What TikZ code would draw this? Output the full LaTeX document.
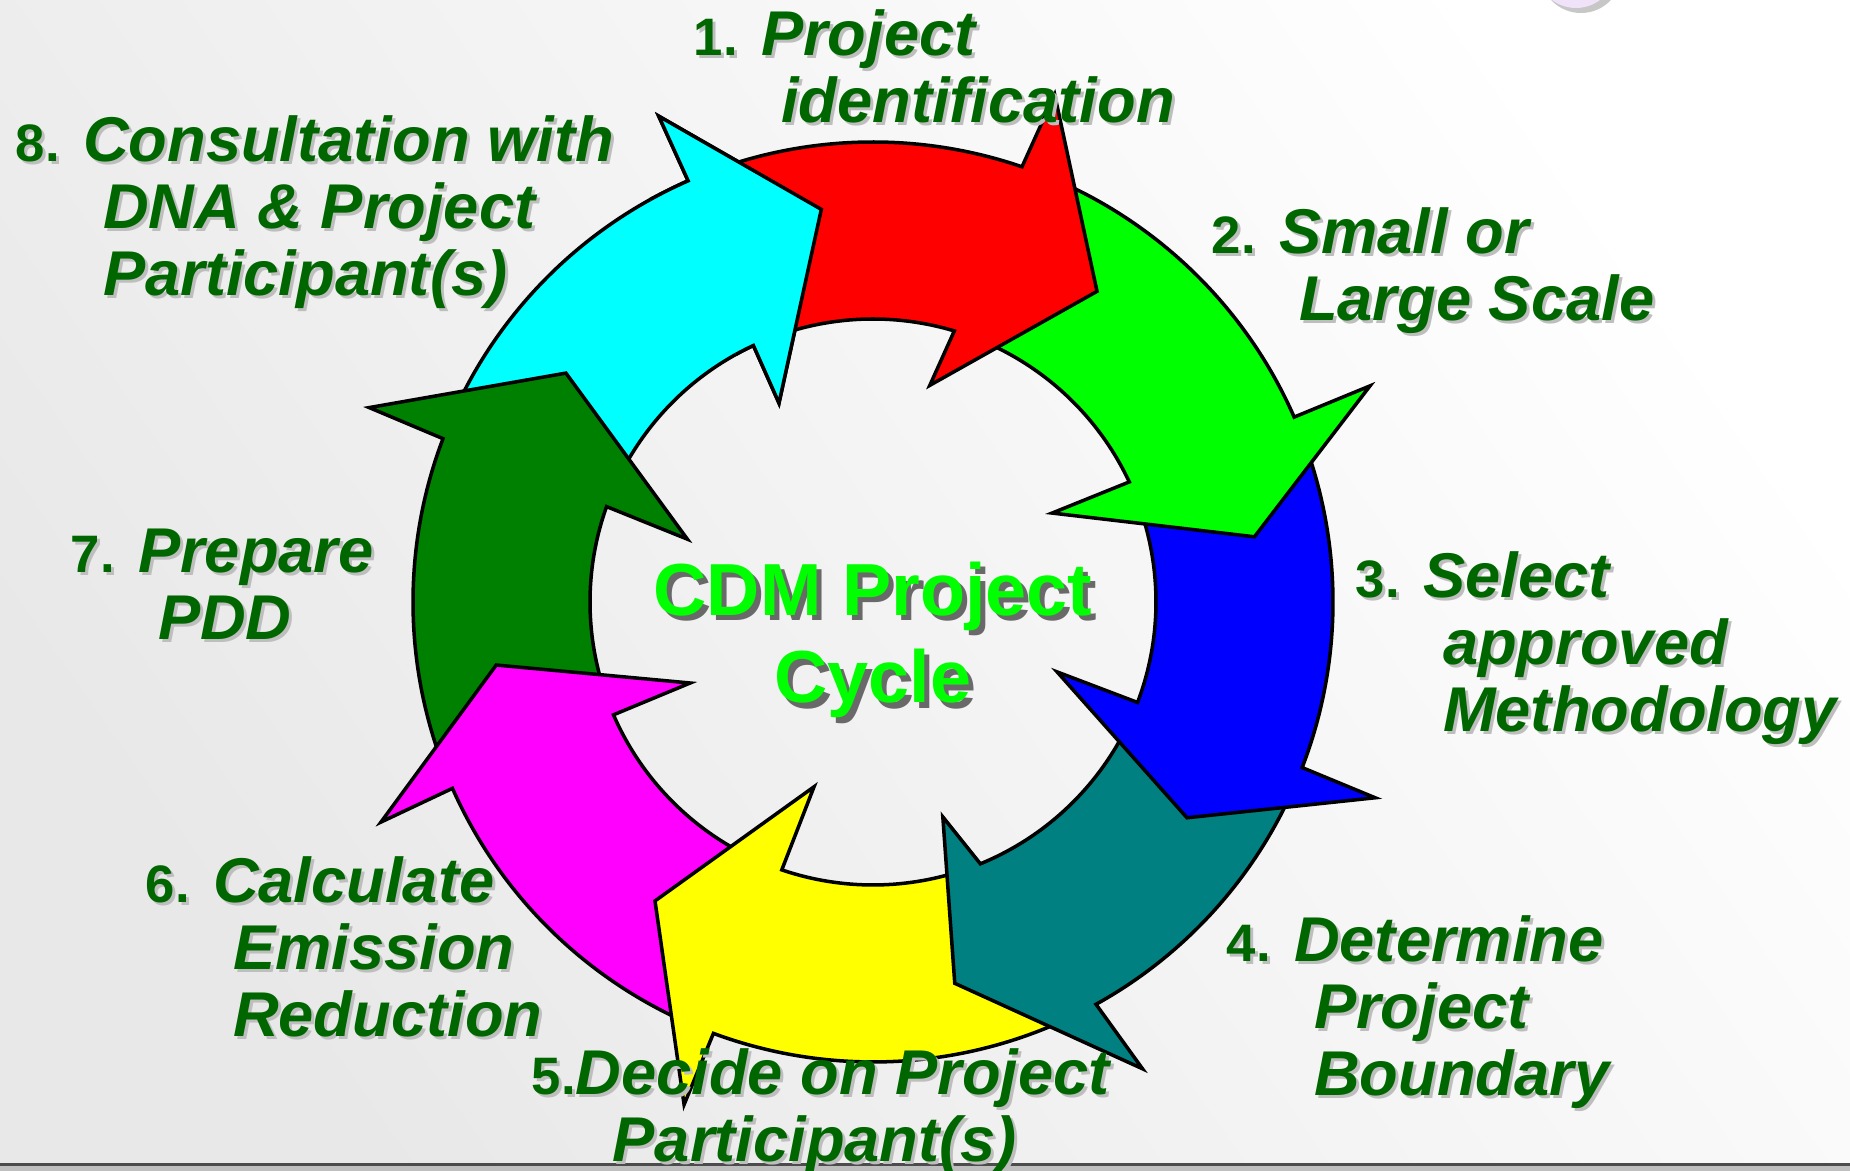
\documentclass[tikz,border=0pt]{standalone}
\usepackage{fontspec}
\setmainfont{Liberation Sans}
\usepackage{tikz}
\usetikzlibrary{calc}
\definecolor{lblgreen}{RGB}{0,102,0}
\definecolor{lblshadow}{RGB}{190,190,190}
\definecolor{cdmgreen}{RGB}{0,255,0}
\definecolor{cdmshadow}{RGB}{105,105,105}
\definecolor{arrred}{RGB}{255,0,0}
\definecolor{arrgreen}{RGB}{0,255,0}
\definecolor{arrblue}{RGB}{0,0,255}
\definecolor{arrteal}{RGB}{0,128,128}
\definecolor{arryellow}{RGB}{255,255,0}
\definecolor{arrmagenta}{RGB}{255,0,255}
\definecolor{arrdkgreen}{RGB}{0,128,0}
\definecolor{arrcyan}{RGB}{0,255,255}
\definecolor{lavender}{RGB}{240,226,248}
\definecolor{bgpaper}{RGB}{232,232,232}
\newcommand{\nr}[1]{{\fontsize{15}{19}\selectfont\upshape #1}}
\newcommand{\ind}{\hspace*{2mm}}

\begin{document}
\begin{tikzpicture}[x=0.1mm,y=0.1mm,
    ring/.style={draw=black,line width=1pt},
    lbl/.style={anchor=base west,inner sep=0pt,font=\fontsize{18}{19}\selectfont\bfseries\itshape}]
  \useasboundingbox (0,0) rectangle (1850,1171);
  \shade[top color=white,bottom color=bgpaper,shading angle=-55] (0,0) rectangle (1850,1171);
  \fill[black!22] (1581,1199) circle[radius=4.1mm];
  \fill[lavender] (1576,1203) circle[radius=4mm];
  \fill[black!25] (0,0) rectangle (1850,5);
  \draw[black!70,line width=0.3mm] (0,6) -- (1850,6);

  \coordinate (c) at (873,569);
  \begin{scope}[shift={(c)}]
    \filldraw[ring,fill=arrcyan] (156.7:460) arc[start angle=156.7,end angle=113.7,radius=46mm] -- (113.8:531) -- (97.5:396) -- (115.3:220) -- (115:283) arc[start angle=115,end angle=157.8,radius=28.3mm] -- (148.3:383) -- cycle;
    \filldraw[ring,fill=arrdkgreen] (201.4:460) arc[start angle=201.4,end angle=159.2,radius=46mm] -- (158.9:540) -- (143.3:383) -- (161.3:196) -- (160.3:283) arc[start angle=160.3,end angle=201,radius=28.3mm] -- (194.5:382) -- cycle;
    \filldraw[ring,fill=arrmagenta] (-112.8:460) arc[start angle=-112.8,end angle=-156.1,radius=46mm] -- (-155.9:539) -- (-170.5:382) -- (-156.1:200) -- (-156.5:283) arc[start angle=-156.5,end angle=-111.3,radius=28.3mm] -- (-121.1:370) -- cycle;
    \filldraw[ring,fill=arryellow] (-63.5:460) arc[start angle=-63.5,end angle=-110.3,radius=46mm] -- (-110.6:537) -- (-126.1:370) -- (-107.7:194) -- (-108.8:283) arc[start angle=-108.8,end angle=-70.2,radius=28.3mm] -- (-72.9:390) -- cycle;
    \filldraw[ring,fill=arrteal] (-23.6:460) arc[start angle=-23.6,end angle=-61,radius=46mm] -- (-60:539) -- (-77.9:390) -- (-72:226) -- (-67.7:283) arc[start angle=-67.7,end angle=-23.3,radius=28.3mm] -- (-29.5:381) -- cycle;
    \filldraw[ring,fill=arrblue] (21.2:460) arc[start angle=21.2,end angle=-21.1,radius=46mm] -- (-21.3:539) -- (-34.5:381) -- (-20.8:197) -- (-20.8:283) arc[start angle=-20.8,end angle=22.6,radius=28.3mm] -- (14.7:387) -- cycle;
    \filldraw[ring,fill=arrgreen] (68.6:460) arc[start angle=68.6,end angle=23.7,radius=46mm] -- (23.5:542) -- (9.7:387) -- (26.4:200) -- (25.1:283) arc[start angle=25.1,end angle=70.8,radius=28.3mm] -- (59.2:383) -- cycle;
    \filldraw[ring,fill=arrred] (111.2:460) arc[start angle=111.2,end angle=71.1,radius=46mm] -- (70.3:539) -- (54.2:383) -- (75.3:224) -- (73.3:283) arc[start angle=73.3,end angle=112.5,radius=28.3mm] -- (102.5:396) -- cycle;
    % head of 8 lies over the tail of 1
    \begin{scope}
      \clip (0,0) -- (92:620) -- (105:620) -- (119:620) -- cycle;
      \filldraw[ring,fill=arrcyan] (156.7:460) arc[start angle=156.7,end angle=113.7,radius=46mm] -- (113.8:531) -- (97.5:396) -- (115.3:220) -- (115:283) arc[start angle=115,end angle=157.8,radius=28.3mm] -- (148.3:383) -- cycle;
    \end{scope}
  \end{scope}

  \foreach \col/\off in {cdmshadow/5,cdmgreen/0}
    \node[font=\fontsize{21}{25}\selectfont\bfseries,align=center,inner sep=0pt,text=\col] (cdm) at (873+\off,531-\off) {CDM Project\\Cycle};

  \foreach \col/\off in {lblshadow/3,lblgreen/0}{
    \node[lbl,text=\col,xshift=\off*0.1mm,yshift=-\off*0.1mm] (t1) at (693,1115) {\nr{1.} \begin{tabular}[t]{@{}l@{}}Project\\\ind identification\end{tabular}};
    \node[lbl,text=\col,xshift=\off*0.1mm,yshift=-\off*0.1mm] (t2) at (1211,917) {\nr{2.} \begin{tabular}[t]{@{}l@{}}Small or\\\ind Large Scale\end{tabular}};
    \node[lbl,text=\col,xshift=\off*0.1mm,yshift=-\off*0.1mm] (t3) at (1355,573) {\nr{3.} \begin{tabular}[t]{@{}l@{}}Select\\\ind approved\\\ind Methodology\end{tabular}};
    \node[lbl,text=\col,xshift=\off*0.1mm,yshift=-\off*0.1mm] (t4) at (1226,209) {\nr{4.} \begin{tabular}[t]{@{}l@{}}Determine\\\ind Project\\\ind Boundary\end{tabular}};
    \node[lbl,text=\col,xshift=\off*0.1mm,yshift=-\off*0.1mm] (t5) at (531,76) {\nr{5.}\begin{tabular}[t]{@{}l@{}}Decide on Project\\\hspace*{3.7mm}Participant(s)\end{tabular}};
    \node[lbl,text=\col,xshift=\off*0.1mm,yshift=-\off*0.1mm] (t6) at (145,268) {\nr{6.} \begin{tabular}[t]{@{}l@{}}Calculate\\\ind Emission\\\ind Reduction\end{tabular}};
    \node[lbl,text=\col,xshift=\off*0.1mm,yshift=-\off*0.1mm] (t7) at (70,598) {\nr{7.} \begin{tabular}[t]{@{}l@{}}Prepare\\\ind PDD\end{tabular}};
    \node[lbl,text=\col,xshift=\off*0.1mm,yshift=-\off*0.1mm] (t8) at (15,1009) {\nr{8.} \begin{tabular}[t]{@{}l@{}}Consultation with\\\ind DNA \& Project\\\ind Participant(s)\end{tabular}};
  }
\end{tikzpicture}
\end{document}
